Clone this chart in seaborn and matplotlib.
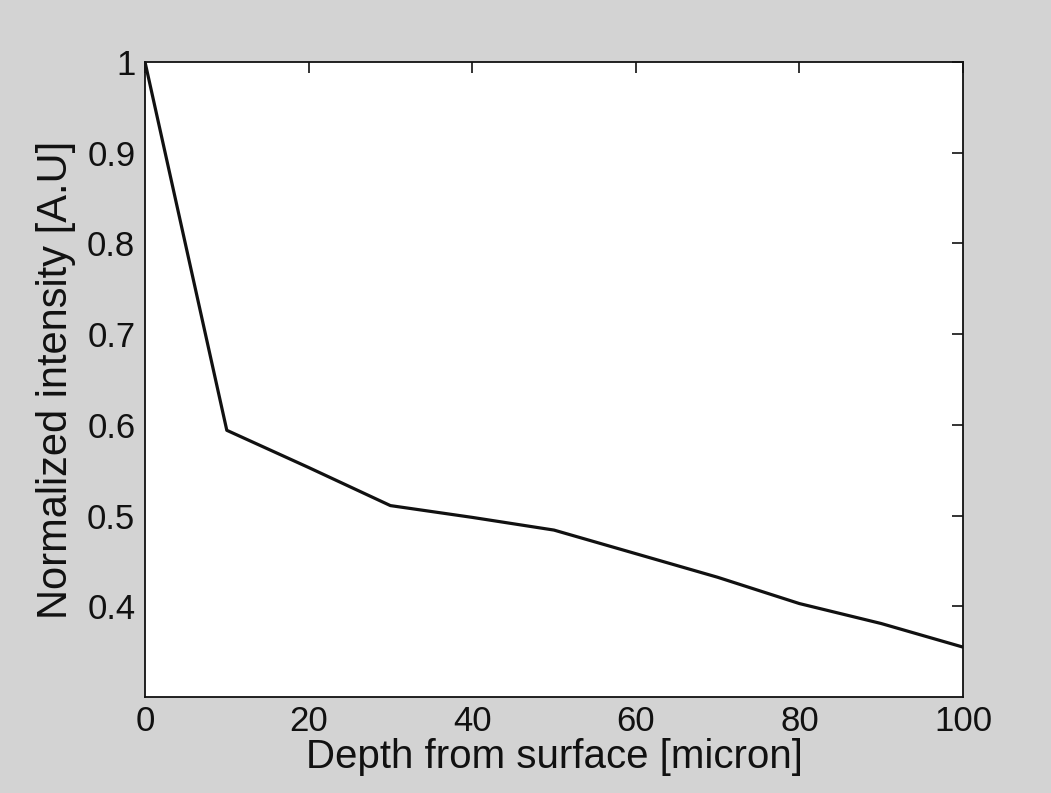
import matplotlib
matplotlib.use("Agg")
import matplotlib.pyplot as plt
import seaborn as sns
import pandas as pd

depth = [0, 10, 20, 30, 40, 50, 60, 70, 80, 90, 100]
intensity = [1.0, 0.594, 0.553, 0.511, 0.498, 0.484, 0.458, 0.432, 0.403, 0.381, 0.355]
xticks = [0, 20, 40, 60, 80, 100]
yticks = [0.4, 0.5, 0.6, 0.7, 0.8, 0.9, 1.0]
ytick_labels = ["0.4", "0.5", "0.6", "0.7", "0.8", "0.9", "1"]

sns.set_style("white")
plt.rcParams['font.family'] = ['Liberation Sans', 'DejaVu Sans']

df = pd.DataFrame({"depth": depth, "intensity": intensity})

fig = plt.figure(figsize=(10.51, 7.93), dpi=100, facecolor="#d3d3d3")
ax = fig.add_axes([145/1051, 96/793, (963-145)/1051, (697-62)/793])
ax.set_facecolor("white")
sns.lineplot(data=df, x="depth", y="intensity", ax=ax, color="#111111", linewidth=2.3)

ax.set_xlim(0, 100)
ax.set_ylim(0.3, 1.0)
ax.set_xticks(xticks)
ax.set_xticklabels([str(t) for t in xticks])
ax.set_yticks(yticks)
ax.set_yticklabels(ytick_labels)
ax.tick_params(direction="in", length=8, width=1.2, top=True, right=True,
               labelsize=25, colors="#111111")
ax.tick_params(axis="x", pad=6)
ax.tick_params(axis="y", pad=7)
for s in ax.spines.values():
    s.set_visible(True)
    s.set_color("#111111")
    s.set_linewidth(1.3)
ax.set_xlabel("Depth from surface [micron]", fontsize=29, color="#111111", labelpad=0)
ax.set_ylabel("Normalized intensity [A.U]", fontsize=30, color="#111111", labelpad=8)

fig.savefig("out.png", dpi=100, facecolor=fig.get_facecolor())
